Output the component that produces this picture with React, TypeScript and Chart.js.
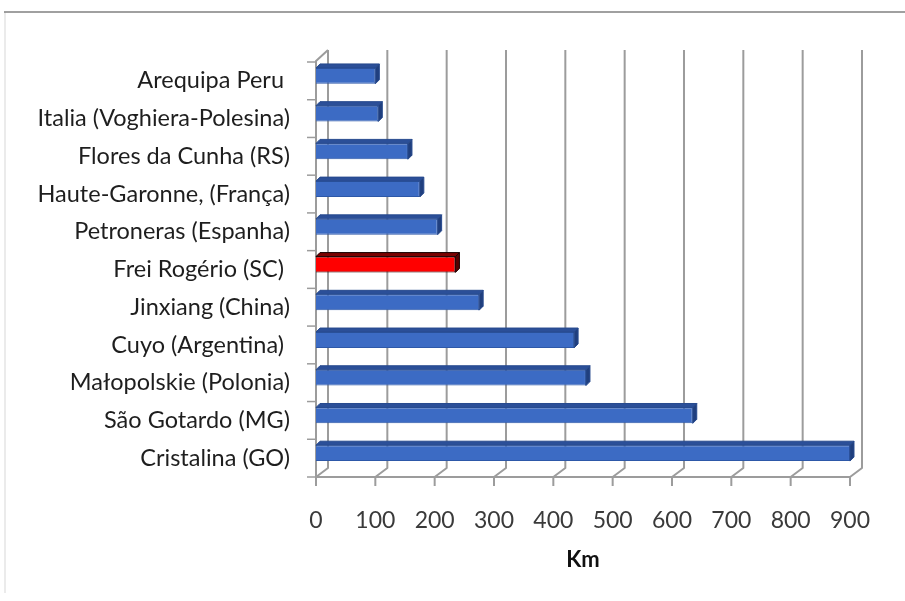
import { useEffect, useRef } from "react";
import { Chart, registerables } from "chart.js";

Chart.register(...registerables);

const categories = [
  "Arequipa Peru ",
  "Italia (Voghiera-Polesina)",
  "Flores da Cunha (RS)",
  "Haute-Garonne, (França)",
  "Petroneras (Espanha)",
  "Frei Rogério (SC) ",
  "Jinxiang (China)",
  "Cuyo (Argentina) ",
  "Małopolskie (Polonia)",
  "São Gotardo (MG)",
  "Cristalina (GO)",
];
const distancesKm = [100, 105, 155, 175, 205, 235, 275, 435, 455, 635, 900];
const xTickValues = [0, 100, 200, 300, 400, 500, 600, 700, 800, 900];
const highlighted = "Frei Rogério (SC) ";
const axisTitle = "Km";

const DX = 12;
const DY = 9;
const BAR_D = 4;

const framePlugin = {
  id: "frame3d",
  beforeDraw(chart: any) {
    const { ctx, width, height } = chart;
    ctx.save();
    ctx.fillStyle = "#ffffff";
    ctx.fillRect(0, 0, width, height);
    ctx.strokeStyle = "#e4e4e4";
    ctx.lineWidth = 1.5;
    ctx.beginPath();
    ctx.moveTo(5, 12);
    ctx.lineTo(5, height - 8);
    ctx.stroke();
    ctx.strokeStyle = "#808080";
    ctx.lineWidth = 1.5;
    ctx.beginPath();
    ctx.moveTo(4, 12);
    ctx.lineTo(width, 12);
    ctx.stroke();
    ctx.restore();
  },
  beforeDatasetsDraw(chart: any) {
    const { ctx, chartArea, scales } = chart;
    const xs = scales.x;
    const ys = scales.y;
    const front = chartArea.bottom + 5;
    const back = front - DY;
    const top = chartArea.top - 7;
    const x0 = xs.getPixelForValue(xTickValues[0]);
    const xEnd = xs.getPixelForValue(xTickValues[xTickValues.length - 1]);
    ctx.save();
    ctx.strokeStyle = "#9c9c9c";
    ctx.lineWidth = 2;
    ctx.lineJoin = "round";
    for (const v of xTickValues) {
      const X = xs.getPixelForValue(v);
      ctx.beginPath();
      ctx.moveTo(X + DX, top);
      ctx.lineTo(X + DX, back);
      ctx.lineTo(X, front);
      ctx.lineTo(X, front + 9);
      ctx.stroke();
    }
    ctx.beginPath();
    ctx.moveTo(x0, front);
    ctx.lineTo(xEnd, front);
    ctx.stroke();
    ctx.beginPath();
    ctx.moveTo(x0 + DX, top);
    ctx.lineTo(x0, top + DY + 2);
    ctx.lineTo(x0, front);
    ctx.stroke();
    const step = ys.getPixelForValue(1) - ys.getPixelForValue(0);
    ctx.lineWidth = 1.5;
    for (let i = 0; i <= categories.length; i++) {
      const yb = ys.getPixelForValue(0) - step / 2 + i * step + 5;
      ctx.beginPath();
      ctx.moveTo(x0 - 9, yb);
      ctx.lineTo(x0, yb);
      ctx.stroke();
    }
    ctx.restore();
  },
  afterDatasetsDraw(chart: any) {
    const { ctx } = chart;
    const meta = chart.getDatasetMeta(0);
    ctx.save();
    meta.data.forEach((bar: any, i: number) => {
      const { x, y, base, height } = bar.getProps(["x", "y", "base", "height"], true);
      const t = y - height / 2;
      const b = y + height / 2;
      const isHi = categories[i] === highlighted;
      ctx.fillStyle = isHi ? "#7a0000" : "#2b4f98";
      ctx.strokeStyle = isHi ? "#1a0000" : "#274a8e";
      ctx.lineWidth = 1;
      ctx.beginPath();
      ctx.moveTo(base, t);
      ctx.lineTo(x, t);
      ctx.lineTo(x + BAR_D, t - BAR_D);
      ctx.lineTo(base + BAR_D, t - BAR_D);
      ctx.closePath();
      ctx.fill();
      ctx.stroke();
      ctx.fillStyle = isHi ? "#550000" : "#203f7e";
      ctx.beginPath();
      ctx.moveTo(x, t);
      ctx.lineTo(x + BAR_D, t - BAR_D);
      ctx.lineTo(x + BAR_D, b - BAR_D);
      ctx.lineTo(x, b);
      ctx.closePath();
      ctx.fill();
      ctx.stroke();
    });
    ctx.restore();
  },
};

export default function App() {
  const ref = useRef<HTMLCanvasElement | null>(null);
  useEffect(() => {
    document.body.style.margin = "0";
    const canvas = ref.current;
    if (!canvas) return;
    const bg = categories.map((c) => (c === highlighted ? "#ff0000" : "#3c6bc4"));
    const bc = categories.map((c) => (c === highlighted ? "#2a0000" : "#2d58a8"));
    const chart = new Chart(canvas, {
      type: "bar",
      data: {
        labels: categories,
        datasets: [
          {
            data: distancesKm,
            backgroundColor: bg,
            borderColor: bc,
            borderWidth: 1,
            categoryPercentage: 1,
            barPercentage: 0.42,
          },
        ],
      },
      options: {
        animation: false,
        indexAxis: "y",
        responsive: true,
        maintainAspectRatio: false,
        layout: { padding: { top: 57, right: 51, left: 0, bottom: 0 } },
        plugins: { legend: { display: false }, tooltip: { enabled: false } },
        scales: {
          x: {
            type: "linear",
            min: 0,
            max: 900,
            position: "bottom",
            afterFit: (s: any) => {
              s.height = 129;
            },
            grid: { display: false, drawTicks: false },
            border: { display: false },
            ticks: {
              stepSize: 100,
              padding: 35,
              color: "#3a3a3a",
              font: { family: "Lato", size: 23 },
              maxRotation: 0,
              autoSkip: false,
            },
            title: {
              display: true,
              text: axisTitle,
              color: "#111111",
              font: { family: "Lato", size: 22, weight: "bold" },
              padding: { top: 0, bottom: 28 },
            },
          },
          y: {
            type: "category",
            afterFit: (s: any) => {
              s.width = 316;
            },
            grid: { display: false, drawTicks: false },
            border: { display: false },
            ticks: {
              padding: 26,
              labelOffset: 5,
              color: "#1e1e1e",
              font: { family: "Lato", size: 23.5 },
              autoSkip: false,
            },
          },
        },
      },
      plugins: [framePlugin],
    } as any);
    return () => chart.destroy();
  }, []);
  return (
    <div style={{ position: "fixed", left: 0, top: 0, width: 905, height: 601 }}>
      <canvas ref={ref} />
    </div>
  );
}
